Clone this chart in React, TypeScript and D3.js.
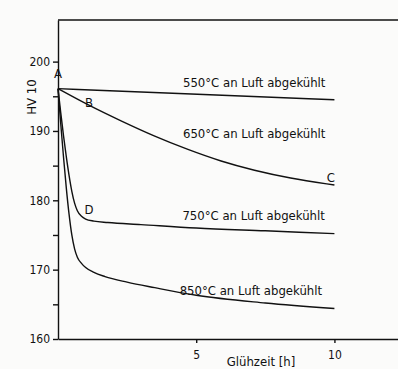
import React, {useEffect, useRef} from 'react';
import * as d3 from 'd3';

// Härte HV 10 über Glühzeit
const t550 = [0, 4.4, 10];
const hv550 = [196.1, 195.4, 194.5];

const t650 = [0, 1.1, 2.3, 3.5, 4.7, 5.9, 7.1, 8.35, 10];
const hv650 = [196.1, 193.7, 191.4, 189.2, 187.3, 185.6, 184.3, 183.2, 182.2];

const t750 = [0, 0.1, 0.2, 0.3, 0.4, 0.5, 0.6, 0.7, 0.85, 1.0, 1.3, 1.8, 3, 5, 7.5, 10];
const hv750 = [196.1, 192.6, 189.3, 186.3, 183.6, 181.3, 179.6, 178.5, 177.7, 177.3, 177.0, 176.8, 176.5, 176.0, 175.6, 175.2];

const t850 = [0, 0.1, 0.2, 0.3, 0.4, 0.5, 0.6, 0.7, 0.85, 1.0, 1.3, 1.7, 2.5, 3.5, 5, 7.5, 10];
const hv850 = [196.1, 191.0, 186.2, 181.8, 178.0, 175.0, 173.0, 171.8, 170.9, 170.3, 169.6, 169.0, 168.2, 167.4, 166.3, 165.2, 164.4];

const seriesLabels = ['550°C an Luft abgekühlt', '650°C an Luft abgekühlt', '750°C an Luft abgekühlt', '850°C an Luft abgekühlt'];
const yTicks = [160, 170, 180, 190, 200];
const yMinorTicks = [165, 175, 185, 195];
const xTicks = [5, 10];

function App() {
    const svgRef = useRef(null);
    const width = 398;
    const height = 369;

    useEffect(() => {
        const svg = d3.select(svgRef.current);
        svg.selectAll('*').remove();

        const font = '"Liberation Sans Narrow", "DejaVu Sans Condensed", sans-serif';
        const ink = '#111';

        svg.append('rect')
            .attr('width', width)
            .attr('height', height)
            .attr('fill', '#fbfbfa');

        const xScale = d3.scaleLinear().domain([0, 12.3]).range([58, 398]);
        const yScale = d3.scaleLinear().domain([160, 206]).range([339, 20]);

        // Rahmen oben
        svg.append('line')
            .attr('x1', xScale(0)).attr('x2', width)
            .attr('y1', yScale(206)).attr('y2', yScale(206))
            .attr('stroke', ink).attr('stroke-width', 1.4);

        // y-Achse
        const yAxis = svg.append('g')
            .attr('transform', `translate(${xScale(0)},0)`)
            .call(d3.axisLeft(yScale).tickValues(yTicks).tickSize(5).tickSizeOuter(0));
        yAxis.append('g')
            .call(d3.axisLeft(yScale).tickValues(yMinorTicks).tickSize(5).tickSizeOuter(0).tickFormat(() => ''))
            .select('.domain').remove();
        yAxis.selectAll('path, line').attr('stroke', ink).attr('stroke-width', 1.4);
        yAxis.selectAll('text')
            .style('font-family', font).style('font-size', '12px').attr('fill', ink).attr('x', -8);

        // x-Achse
        const xAxis = svg.append('g')
            .attr('transform', `translate(0,${yScale(160)})`)
            .call(d3.axisBottom(xScale).tickValues(xTicks).tickSize(4).tickSizeOuter(0));
        xAxis.selectAll('path, line').attr('stroke', ink).attr('stroke-width', 1.4);
        xAxis.selectAll('text')
            .style('font-family', font).style('font-size', '12px').attr('fill', ink).attr('y', 11);

        svg.append('text')
            .attr('transform', `translate(36,97) rotate(-90)`)
            .attr('text-anchor', 'middle')
            .attr('fill', ink)
            .style('font-family', font).style('font-size', '13px')
            .text('HV 10');

        svg.append('text')
            .attr('x', 261).attr('y', 366)
            .attr('text-anchor', 'middle')
            .attr('fill', ink)
            .style('font-family', font).style('font-size', '13px')
            .text('Glühzeit [h]');

        const smooth = d3.line<[number, number]>()
            .x(d => xScale(d[0]))
            .y(d => yScale(d[1]))
            .curve(d3.curveBasis);
        const steep = d3.line<[number, number]>()
            .x(d => xScale(d[0]))
            .y(d => yScale(d[1]))
            .curve(d3.curveMonotoneX);

        // 550/650 flach verlaufend, 750/850 mit steilem Abfall
        const series = [
            {t: t550, hv: hv550, gen: smooth},
            {t: t650, hv: hv650, gen: smooth},
            {t: t750, hv: hv750, gen: steep},
            {t: t850, hv: hv850, gen: steep},
        ];

        svg.append('g')
            .selectAll('path')
            .data(series)
            .join('path')
            .attr('d', s => s.gen(s.t.map((t, i) => [t, s.hv[i]] as [number, number])))
            .attr('fill', 'none')
            .attr('stroke', ink)
            .attr('stroke-width', 1.4);

        // Beschriftung der Kurven
        const labelPos = [[4.52, 196.3], [4.52, 189.0], [4.5, 177.2], [4.4, 166.4]];
        svg.append('g')
            .selectAll('text')
            .data(seriesLabels)
            .join('text')
            .attr('x', (d, i) => xScale(labelPos[i][0]))
            .attr('y', (d, i) => yScale(labelPos[i][1]))
            .attr('fill', ink)
            .style('font-family', font).style('font-size', '13px')
            .text(d => d);

        const points = [['A', 0, 197.7], ['B', 1.12, 193.5], ['C', 9.87, 182.6], ['D', 1.12, 178.0]];
        svg.append('g')
            .selectAll('text')
            .data(points)
            .join('text')
            .attr('x', d => xScale(d[1] as number))
            .attr('y', d => yScale(d[2] as number))
            .attr('text-anchor', 'middle')
            .attr('fill', ink)
            .style('font-family', font).style('font-size', '13px')
            .text(d => d[0] as string);
    }, []);

    return <svg ref={svgRef} width={width} height={height} style={{position: 'absolute', left: 0, top: 0}}/>;
}

export default App;
